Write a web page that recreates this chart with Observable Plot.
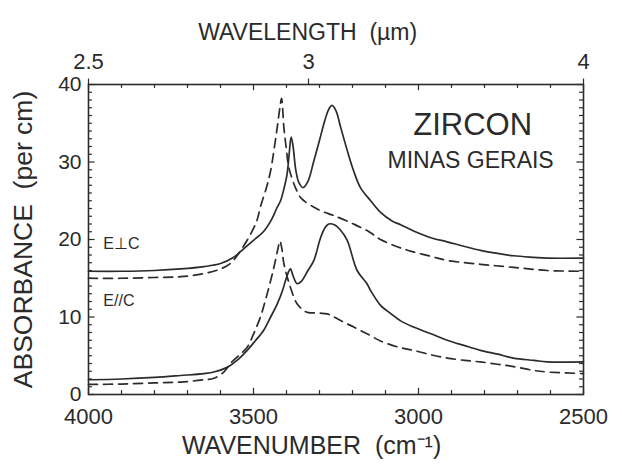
<!DOCTYPE html>
<html>
<head>
<meta charset="utf-8">
<script src="https://cdn.jsdelivr.net/npm/d3@7"></script>
<script src="https://cdn.jsdelivr.net/npm/@observablehq/plot@0.6"></script>
<style>
  html, body { margin: 0; padding: 0; background: #fff; }
</style>
</head>
<body>
<div id="chart"></div>
<script>
// E ⊥ c, solid
const perpSolidWn  = [4000,3900,3800,3720,3650,3600,3560,3530,3500,3470,3445,3430,3418,3408,3398,3392,3386,3380,3372,3362,3350,3335,3318,3300,3285,3272,3262,3250,3236,3216,3197,3176,3145,3115,3080,3054,3015,2960,2913,2860,2812,2760,2712,2650,2610,2500];
const perpSolidAbs = [15.9,15.9,16.0,16.2,16.5,16.9,17.7,18.8,19.9,21.0,22.6,24.0,25.0,26.5,28.5,31.0,33.2,32.0,29.0,27.3,26.7,27.5,30.0,32.8,35.2,36.8,37.3,36.6,34.5,31.5,28.9,26.7,25.0,23.5,22.4,21.9,21.1,20.2,19.7,19.1,18.6,18.2,17.9,17.7,17.6,17.6];
// E ⊥ c, dashed
const perpDashWn  = [4000,3900,3800,3720,3650,3600,3570,3540,3510,3490,3479,3460,3448,3437,3428,3420,3415,3408,3400,3393,3373,3355,3318,3290,3257,3197,3150,3115,3060,3015,2960,2913,2812,2712,2610,2500];
const perpDashAbs = [15.0,15.0,15.1,15.2,15.6,16.2,16.9,18.5,20.6,22.4,24.2,26.8,28.9,31.8,34.5,37.0,38.2,34.5,31.5,29.3,26.7,25.3,24.2,23.6,23.1,22.0,21.0,20.0,19.0,18.4,17.8,17.3,16.8,16.4,16.0,15.9];
// E // c, solid
const paraSolidWn  = [4000,3900,3800,3721,3650,3620,3580,3550,3519,3495,3469,3448,3428,3413,3403,3395,3388,3380,3368,3355,3335,3317,3297,3282,3272,3255,3236,3216,3186,3156,3145,3115,3095,3054,3015,2960,2913,2860,2812,2760,2712,2650,2610,2500];
const paraSolidAbs = [1.9,2.0,2.2,2.45,2.7,2.9,3.5,4.4,5.7,6.9,8.3,10.0,11.7,13.3,14.7,15.7,16.2,15.3,14.3,14.6,16.0,17.3,20.2,21.6,22.0,21.9,21.2,19.9,16.0,14.3,13.4,11.5,10.8,9.5,8.7,7.8,7.0,6.3,5.7,5.2,4.7,4.4,4.2,4.2];
// E // c, dashed
const paraDashWn  = [4000,3900,3800,3721,3650,3620,3590,3570,3545,3519,3500,3479,3463,3448,3435,3425,3420,3414,3408,3398,3388,3378,3368,3350,3337,3300,3277,3260,3247,3220,3196,3150,3115,3060,3015,2960,2913,2860,2812,2760,2712,2650,2610,2500];
const paraDashAbs = [1.3,1.35,1.5,1.6,1.9,2.1,2.9,4.0,5.0,6.1,7.8,10.0,12.3,14.7,17.0,19.0,19.8,18.8,16.9,15.2,13.8,12.6,11.7,10.9,10.6,10.5,10.4,10.1,9.8,9.2,8.7,7.7,6.9,6.1,5.7,5.1,4.7,4.4,4.2,3.9,3.6,3.1,2.9,2.7];

// axis ticks and labels
const xLabelTicks = [4000, 3500, 3000, 2500];
const xMinorTicks = d3.range(2500, 4001, 100);
const yLabelTicks = [0, 10, 20, 30, 40];
const yMinorTicks = d3.range(0, 41, 1);
const wavelengthTicks = [2.5, 3, 4];
const wavelengthLabels = ["2.5", "3", "4"];

const toRows = (wn, abs) => wn.map((w, i) => ({w, a: abs[i]}));
const perpSolid = toRows(perpSolidWn, perpSolidAbs);
const perpDash = toRows(perpDashWn, perpDashAbs);
const paraSolid = toRows(paraSolidWn, paraSolidAbs);
const paraDash = toRows(paraDashWn, paraDashAbs);

const ink = "#2b2b2b";
const font = "'Liberation Sans', Arial, sans-serif";

const chart = Plot.plot({
  width: 622,
  height: 466,
  marginLeft: 88,
  marginRight: 39,
  marginTop: 84,
  marginBottom: 72,
  style: {fontFamily: font, background: "#fff", color: ink},
  x: {domain: [4000, 2500], axis: null},
  y: {domain: [0, 40], axis: null},
  marks: [
    // curves
    Plot.line(perpSolid, {x: "w", y: "a", stroke: ink, strokeWidth: 1.7, curve: "catmull-rom"}),
    Plot.line(perpDash, {x: "w", y: "a", stroke: ink, strokeWidth: 1.7, strokeDasharray: "9,6", curve: "catmull-rom"}),
    Plot.line(paraSolid, {x: "w", y: "a", stroke: ink, strokeWidth: 1.7, curve: "catmull-rom"}),
    Plot.line(paraDash, {x: "w", y: "a", stroke: ink, strokeWidth: 1.7, strokeDasharray: "9,6", curve: "catmull-rom"}),
    // inward ticks bottom/top
    Plot.ruleX(xMinorTicks, {x: d => d, y1: 0, y2: d => d % 500 === 0 ? 0.8 : 0.5, stroke: ink, strokeWidth: 1.2}),
    Plot.ruleX(xMinorTicks, {x: d => d, y1: 40, y2: d => d % 500 === 0 ? 39.2 : 39.5, stroke: ink, strokeWidth: 1.2}),
    // outward ticks for wavelength
    Plot.ruleX(wavelengthTicks, {x: d => 10000 / d, y1: 40, y2: 40.7, stroke: ink, strokeWidth: 1.2}),
    // inward ticks left/right
    Plot.ruleY(yMinorTicks, {y: d => d, x1: 4000, x2: d => d % 10 === 0 ? 3980 : 3988, stroke: ink, strokeWidth: 1.2}),
    Plot.ruleY(yMinorTicks, {y: d => d, x1: 2500, x2: d => d % 10 === 0 ? 2520 : 2512, stroke: ink, strokeWidth: 1.2}),
    Plot.frame({stroke: ink, strokeWidth: 1.6}),
    // tick labels
    Plot.text(xLabelTicks, {x: d => d, frameAnchor: "bottom", lineAnchor: "middle", dy: 22, text: d => String(d), fontSize: 22, fill: ink}),
    Plot.text(yLabelTicks, {y: d => d, frameAnchor: "left", lineAnchor: "middle", dx: -7, textAnchor: "end", text: d => String(d), fontSize: 21, fill: ink}),
    Plot.text(wavelengthTicks, {x: d => 10000 / d, frameAnchor: "top", lineAnchor: "middle", dy: -23, text: (d, i) => wavelengthLabels[i], fontSize: 22, fill: ink}),
    // axis titles
    Plot.text(["WAVENUMBER  (cm⁻¹)"], {x: 3324, frameAnchor: "bottom", lineAnchor: "middle", dy: 51, fontSize: 25, fill: ink}),
    Plot.text(["WAVELENGTH  (µm)"], {x: 3336, frameAnchor: "top", lineAnchor: "middle", dy: -52, fontSize: 23, fill: ink}),
    Plot.text(["ABSORBANCE  (per cm)"], {y: 20, frameAnchor: "left", textAnchor: "middle", lineAnchor: "middle", dx: -65, rotate: -90, fontSize: 26.5, fill: ink}),
    // annotations
    Plot.text(["ZIRCON"], {x: 2836, y: 34.7, fontSize: 31, fill: ink}),
    Plot.text(["MINAS GERAIS"], {x: 2842, y: 30.2, fontSize: 23, fill: ink}),
    Plot.text(["E⊥C"], {x: 3955, y: 19.4, textAnchor: "start", fontSize: 16, fill: ink}),
    Plot.text(["E//C"], {x: 3955, y: 12.1, textAnchor: "start", fontSize: 16, fill: ink})
  ]
});
document.getElementById("chart").appendChild(chart);
</script>
</body>
</html>
